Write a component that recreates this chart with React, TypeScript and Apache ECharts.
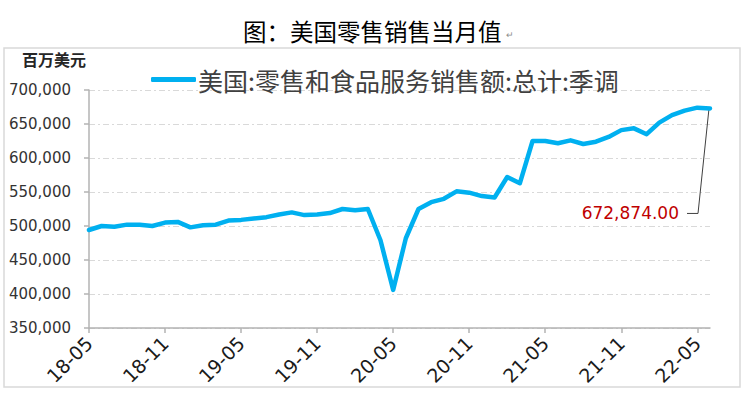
import React, { useEffect, useRef } from "react";
import * as echarts from "echarts";

const titleText = "图：美国零售销售当月值";
const unitText = "百万美元";
const seriesName = "美国:零售和食品服务销售额:总计:季调";

const categories = [
  "18-05", "18-06", "18-07", "18-08", "18-09", "18-10", "18-11", "18-12",
  "19-01", "19-02", "19-03", "19-04", "19-05", "19-06", "19-07", "19-08",
  "19-09", "19-10", "19-11", "19-12", "20-01", "20-02", "20-03", "20-04",
  "20-05", "20-06", "20-07", "20-08", "20-09", "20-10", "20-11", "20-12",
  "21-01", "21-02", "21-03", "21-04", "21-05", "21-06", "21-07", "21-08",
  "21-09", "21-10", "21-11", "21-12", "22-01", "22-02", "22-03", "22-04",
  "22-05", "22-06",
];

const values = [
  494100, 500000, 499000, 502000, 502000, 500000, 505000, 506000,
  498000, 501000, 502000, 508000, 509000, 511000, 513000, 517000,
  520000, 516000, 517000, 519000, 525000, 523000, 525000, 479000,
  406000, 482000, 525000, 535000, 540000, 551000, 549000, 544000,
  542000, 572000, 563000, 625000, 625000, 621600, 626000, 620600,
  624000, 631000, 641000, 643600, 635000, 652000, 663000, 669600,
  674000, 672874,
];

const yMin = 350000;
const yMax = 700000;
const yStep = 50000;

const fmtInt = (v: number) => v.toLocaleString("en-US");
const fmtDec = (v: number) =>
  v.toLocaleString("en-US", { minimumFractionDigits: 2, maximumFractionDigits: 2 });

export default function App() {
  const ref = useRef<HTMLDivElement>(null);

  useEffect(() => {
    document.body.style.margin = "0";
    if (!ref.current) return;
    const chart = echarts.init(ref.current, undefined, { renderer: "svg" });
    chart.setOption({
      animation: false,
      backgroundColor: "#ffffff",
      grid: { left: 89, right: 38, top: 90, bottom: 69, containLabel: false },
      legend: {
        show: true,
        left: 146,
        top: 62,
        icon: "roundRect",
        itemWidth: 45,
        itemHeight: 5,
        itemGap: 10,
        textStyle: {
          fontFamily: "Noto Sans CJK SC",
          fontSize: 25,
          color: "#404040",
          padding: [0, 0, 0, -3],
        },
        data: [seriesName],
      },
      xAxis: {
        type: "category",
        data: categories,
        boundaryGap: false,
        axisLine: { lineStyle: { color: "#b3b3b3", width: 1.5 } },
        axisTick: {
          show: true,
          interval: 5,
          length: 5,
          lineStyle: { color: "#b3b3b3", width: 1.5 },
        },
        axisLabel: {
          interval: 5,
          rotate: 45,
          margin: 12,
          fontFamily: "DejaVu Sans",
          fontSize: 19,
          color: "#1a1a1a",
        },
        splitLine: { show: false },
      },
      yAxis: {
        type: "value",
        min: yMin,
        max: yMax,
        interval: yStep,
        axisLine: { show: true, lineStyle: { color: "#b3b3b3", width: 1.5 } },
        axisTick: { show: true, length: 5, lineStyle: { color: "#b3b3b3", width: 1.5 } },
        axisLabel: {
          margin: 18,
          fontFamily: "DejaVu Sans",
          fontSize: 15,
          color: "#333333",
          formatter: (v: number) => fmtInt(v),
        },
        splitLine: {
          show: true,
          lineStyle: { color: "#d9d9d9", width: 1, type: [6, 3, 2, 3] },
        },
      },
      series: [
        {
          name: seriesName,
          type: "line",
          data: values,
          showSymbol: false,
          symbol: "none",
          smooth: false,
          itemStyle: { color: "#00b0f0" },
          lineStyle: { color: "#00b0f0", width: 4.5, cap: "round", join: "round" },
        },
      ],
    });

    const lastIdx = values.length - 1;
    const lastVal = values[lastIdx];
    const p = chart.convertToPixel({ xAxisIndex: 0, yAxisIndex: 0 }, [lastIdx, lastVal]) as number[];
    const px = p[0];
    const py = p[1];
    const elbowX = px - 12;
    const elbowY = py + 105;

    chart.setOption({
      graphic: [
        {
          type: "rect",
          silent: true,
          shape: { x: 4, y: 48, width: 736, height: 339 },
          style: { fill: "none", stroke: "#d9d9d9", lineWidth: 1.5 },
        },
        {
          type: "text",
          left: 243,
          top: 19,
          style: {
            text: titleText,
            fontFamily: "Noto Sans CJK SC",
            fontSize: 23.5,
            fontWeight: "normal",
            fill: "#000000",
          },
        },
        {
          type: "text",
          left: 506,
          top: 30,
          style: { text: "↵", fontSize: 9, fill: "#8c8c8c" },
        },
        {
          type: "text",
          left: 22,
          top: 51,
          style: {
            text: unitText,
            fontFamily: "Noto Sans CJK SC",
            fontSize: 16,
            fontWeight: "bold",
            fill: "#262626",
          },
        },
        {
          type: "polyline",
          silent: true,
          shape: {
            points: [
              [px - 1, py],
              [elbowX, elbowY],
              [elbowX - 11, elbowY],
            ],
          },
          style: { stroke: "#404040", lineWidth: 1, fill: "none" },
        },
        {
          type: "text",
          x: elbowX - 19,
          y: elbowY,
          style: {
            text: fmtDec(lastVal),
            fontFamily: "DejaVu Sans",
            fontSize: 17,
            fill: "#c00000",
            align: "right",
            verticalAlign: "middle",
          },
        },
      ],
    });

    return () => chart.dispose();
  }, []);

  return (
    <div
      ref={ref}
      style={{ position: "fixed", left: 0, top: 0, width: 748, height: 397 }}
    />
  );
}
